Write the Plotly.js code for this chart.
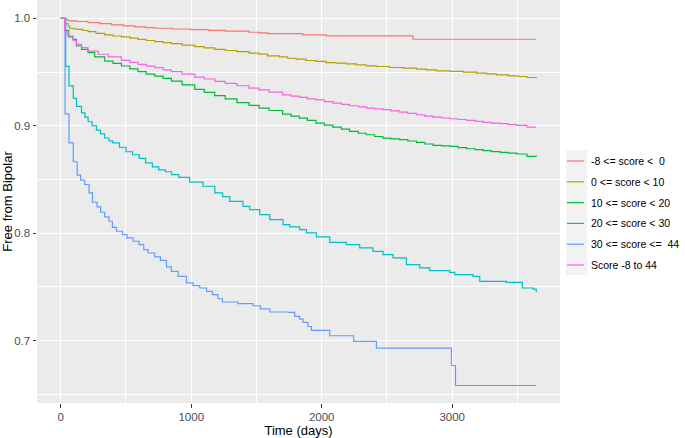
<!DOCTYPE html>
<html>
<head>
<meta charset="utf-8">
<script src="https://cdn.plot.ly/plotly-3.0.1.min.js"></script>
<style>
  html, body { margin: 0; padding: 0; background: #ffffff; }
  #chart { width: 685px; height: 438px; }
</style>
</head>
<body>
<div id="chart"></div>
<script>
// ---- Data ----
const seriesNames = [
  "-8 <= score <\u00A0 0",
  "0 <= score < 10",
  "10 <= score < 20",
  "20 <= score < 30",
  "30 <= score <=\u00A0 44",
  "Score -8 to 44"
];
const seriesColors = ["#F8766D", "#B79F00", "#00BA38", "#00BFC4", "#619CFF", "#F564E3"];

const redTime = [0, 30, 56, 120, 209, 300, 388, 480, 567, 650, 720, 850, 990, 1130, 1260, 1443, 1520, 1585, 1854, 2033, 2700, 3644];
const redSurv = [1.0, 0.999, 0.9975, 0.997, 0.996, 0.995, 0.9938, 0.993, 0.992, 0.9913, 0.9907, 0.990, 0.9895, 0.9888, 0.988, 0.987, 0.9864, 0.9858, 0.9845, 0.9836, 0.9805, 0.9805];

const goldTime = [0, 30, 56, 69, 100, 133, 170, 209, 270, 337, 400, 465, 530, 592, 655, 720, 785, 848, 930, 1027, 1100, 1180, 1260, 1350, 1443, 1520, 1585, 1674, 1738, 1803, 1880, 1956, 2033, 2110, 2187, 2264, 2341, 2418, 2521, 2623, 2726, 2803, 2879, 2982, 3085, 3187, 3264, 3341, 3431, 3508, 3572, 3644];
const goldSurv = [1.0, 0.995, 0.9928, 0.9907, 0.990, 0.9897, 0.9886, 0.9876, 0.986, 0.9845, 0.9835, 0.9826, 0.9815, 0.9804, 0.9793, 0.9783, 0.9773, 0.9764, 0.975, 0.9736, 0.9725, 0.971, 0.970, 0.969, 0.9675, 0.9666, 0.965, 0.9641, 0.9628, 0.9619, 0.9607, 0.9598, 0.9588, 0.9582, 0.9576, 0.9567, 0.9557, 0.9551, 0.9542, 0.9536, 0.9526, 0.952, 0.9511, 0.9505, 0.9498, 0.9489, 0.9483, 0.9474, 0.9464, 0.9458, 0.9449, 0.9443];

const greenTime = [0, 30, 61, 94, 120, 159, 209, 260, 337, 400, 465, 530, 592, 655, 720, 785, 848, 930, 1027, 1100, 1180, 1260, 1350, 1443, 1520, 1597, 1700, 1765, 1828, 1890, 1956, 2020, 2085, 2150, 2213, 2280, 2341, 2405, 2469, 2530, 2597, 2660, 2726, 2790, 2854, 2920, 2982, 3045, 3110, 3175, 3238, 3300, 3367, 3430, 3495, 3572, 3644];
const greenSurv = [1.0, 0.9888, 0.9826, 0.9804, 0.9742, 0.9711, 0.968, 0.964, 0.9602, 0.958, 0.9556, 0.953, 0.9503, 0.948, 0.9462, 0.944, 0.9416, 0.938, 0.9338, 0.931, 0.928, 0.925, 0.9215, 0.919, 0.9164, 0.9142, 0.9108, 0.909, 0.9071, 0.905, 0.9025, 0.9005, 0.8988, 0.8968, 0.8947, 0.893, 0.8916, 0.890, 0.8885, 0.8878, 0.887, 0.8858, 0.8845, 0.883, 0.8817, 0.8812, 0.8808, 0.8797, 0.8786, 0.8777, 0.8768, 0.876, 0.8752, 0.8745, 0.8737, 0.8715, 0.8709];

const tealTime = [0, 38, 63, 96, 121, 159, 185, 210, 240, 273, 305, 336, 370, 399, 450, 500, 550, 601, 650, 702, 750, 803, 850, 904, 988, 1090, 1180, 1240, 1295, 1397, 1448, 1525, 1602, 1703, 1755, 1831, 1883, 1959, 2061, 2189, 2291, 2393, 2470, 2547, 2649, 2751, 2828, 2981, 3019, 3160, 3211, 3415, 3538, 3620, 3644];
const tealSurv = [1.0, 0.9553, 0.937, 0.9255, 0.918, 0.912, 0.908, 0.9037, 0.9, 0.896, 0.8925, 0.8886, 0.886, 0.884, 0.88, 0.8758, 0.873, 0.8696, 0.8655, 0.8618, 0.859, 0.8572, 0.8545, 0.8519, 0.8475, 0.8437, 0.8375, 0.834, 0.8297, 0.825, 0.822, 0.8173, 0.8127, 0.808, 0.8059, 0.8034, 0.8003, 0.7965, 0.7915, 0.7894, 0.7863, 0.7831, 0.780, 0.777, 0.7707, 0.7677, 0.7651, 0.7636, 0.7614, 0.7598, 0.7552, 0.7542, 0.749, 0.748, 0.745];

const blueTime = [0, 33, 63, 96, 126, 152, 184, 217, 243, 278, 306, 337, 370, 396, 427, 473, 508, 554, 600, 636, 669, 720, 764, 810, 848, 899, 963, 1014, 1065, 1117, 1162, 1205, 1239, 1359, 1474, 1530, 1602, 1742, 1793, 1831, 1857, 1895, 1921, 2061, 2245, 2419, 2994, 3025, 3644];
const blueSurv = [1.0, 0.911, 0.884, 0.8665, 0.854, 0.8494, 0.8453, 0.8376, 0.8288, 0.8245, 0.8195, 0.8152, 0.8111, 0.8055, 0.8018, 0.7987, 0.7956, 0.7925, 0.7894, 0.7847, 0.7816, 0.7779, 0.7747, 0.7686, 0.7645, 0.7598, 0.7537, 0.7512, 0.749, 0.7459, 0.7428, 0.739, 0.736, 0.7344, 0.7325, 0.7295, 0.7267, 0.7263, 0.7226, 0.7201, 0.717, 0.7132, 0.7095, 0.7046, 0.6993, 0.6931, 0.6769, 0.6583, 0.6583];

const pinkTime = [0, 30, 45, 56, 94, 120, 159, 209, 286, 362, 465, 530, 592, 655, 720, 785, 848, 930, 1027, 1100, 1180, 1260, 1350, 1443, 1520, 1597, 1700, 1765, 1828, 1890, 1956, 2020, 2085, 2150, 2213, 2280, 2341, 2405, 2469, 2530, 2597, 2660, 2726, 2790, 2854, 2920, 2982, 3045, 3110, 3175, 3238, 3300, 3367, 3430, 3495, 3572, 3644];
const pinkSurv = [1.0, 0.988, 0.9855, 0.9835, 0.9795, 0.9758, 0.9727, 0.9695, 0.9665, 0.964, 0.9609, 0.959, 0.9571, 0.9555, 0.954, 0.952, 0.9503, 0.948, 0.9453, 0.9435, 0.9413, 0.9395, 0.9372, 0.935, 0.9334, 0.9313, 0.9288, 0.9275, 0.9263, 0.925, 0.9241, 0.9225, 0.921, 0.9198, 0.9186, 0.9175, 0.9164, 0.9157, 0.9149, 0.9138, 0.9127, 0.9115, 0.9102, 0.909, 0.908, 0.9072, 0.9065, 0.9058, 0.905, 0.904, 0.9031, 0.9025, 0.9019, 0.9011, 0.9003, 0.8988, 0.8988];

const xTickVals = [0, 1000, 2000, 3000];
const yTickVals = [0.7, 0.8, 0.9, 1.0];

const allTimes = [redTime, goldTime, greenTime, tealTime, blueTime, pinkTime];
const allSurv = [redSurv, goldSurv, greenSurv, tealSurv, blueSurv, pinkSurv];

const FONT = '"Liberation Sans", Arial, "DejaVu Sans", sans-serif';

// ---- Page geometry ----
const W = 685, H = 438;
const M = { l: 37, r: 125, t: 0, b: 35 };
const plotW = W - M.l - M.r, plotH = H - M.t - M.b;
const pxX = px => (px - M.l) / plotW;          // page px -> paper x
const pxY = py => (H - M.b - py) / plotH;      // page px -> paper y

// ggplot-style legend (keys on a light grey background)
const legTop = 161, legStep = 20.8;
const keyX0 = 567, keyX1 = 584, textX = 590;
const keyBgX0 = 566, keyBgX1 = 587;

const traces = seriesNames.map((name, i) => ({
  type: 'scatter',
  mode: 'lines',
  name: name,
  x: allTimes[i],
  y: allSurv[i],
  line: { color: seriesColors[i], width: 1.2, shape: 'hv' },
  hoverinfo: 'x+y+name',
  showlegend: false
}));

const shapes = [{
  type: 'rect', xref: 'paper', yref: 'paper', layer: 'below',
  x0: pxX(keyBgX0), x1: pxX(keyBgX1),
  y0: pxY(legTop - 11), y1: pxY(legTop + legStep * (seriesNames.length - 1) + 10),
  fillcolor: '#F2F2F2', line: { width: 0 }
}];
const annotations = [];
seriesNames.forEach((name, i) => {
  const yc = pxY(legTop + legStep * i);
  shapes.push({
    type: 'line', xref: 'paper', yref: 'paper',
    x0: pxX(keyX0), x1: pxX(keyX1), y0: yc, y1: yc,
    line: { color: seriesColors[i], width: 1.2 }
  });
  annotations.push({
    xref: 'paper', yref: 'paper', x: pxX(textX), y: yc,
    xanchor: 'left', yanchor: 'middle', showarrow: false,
    text: name, align: 'left', borderpad: 0,
    font: { family: FONT, size: 10.5, color: '#000000' }
  });
});

const layout = {
  width: W,
  height: H,
  margin: { l: M.l, r: M.r, t: M.t, b: M.b, pad: 0 },
  paper_bgcolor: '#FFFFFF',
  plot_bgcolor: '#EBEBEB',
  font: { family: FONT, size: 12, color: '#000000' },
  showlegend: false,
  shapes: shapes,
  annotations: annotations,
  xaxis: {
    range: [-182, 3826],
    tickmode: 'array',
    tickvals: xTickVals,
    ticktext: xTickVals.map(String),
    ticks: 'outside', ticklen: 3.5, tickwidth: 1, tickcolor: '#333333',
    showgrid: true, gridcolor: '#FFFFFF', gridwidth: 1.1,
    minor: { tickmode: 'array', tickvals: [500, 1500, 2500, 3500], showgrid: true, gridcolor: '#FFFFFF', gridwidth: 0.5, ticks: '' },
    zeroline: false, showline: false,
    tickfont: { family: FONT, size: 11.5, color: '#4D4D4D' },
    title: { text: 'Time (days)', font: { family: FONT, size: 13, color: '#000000' }, standoff: 6 },
    automargin: false
  },
  yaxis: {
    range: [0.642, 1.017],
    tickmode: 'array',
    tickvals: yTickVals,
    ticktext: yTickVals.map(v => v.toFixed(1)),
    ticks: 'outside', ticklen: 3.5, tickwidth: 1, tickcolor: '#333333',
    showgrid: true, gridcolor: '#FFFFFF', gridwidth: 1.1,
    minor: { tickmode: 'array', tickvals: [0.65, 0.75, 0.85, 0.95], showgrid: true, gridcolor: '#FFFFFF', gridwidth: 0.5, ticks: '' },
    zeroline: false, showline: false,
    tickfont: { family: FONT, size: 11.5, color: '#4D4D4D' },
    title: { text: 'Free from Bipolar', font: { family: FONT, size: 13, color: '#000000' }, standoff: 4 },
    automargin: false
  }
};

Plotly.newPlot('chart', traces, layout, { displayModeBar: false, responsive: false });
</script>
</body>
</html>
